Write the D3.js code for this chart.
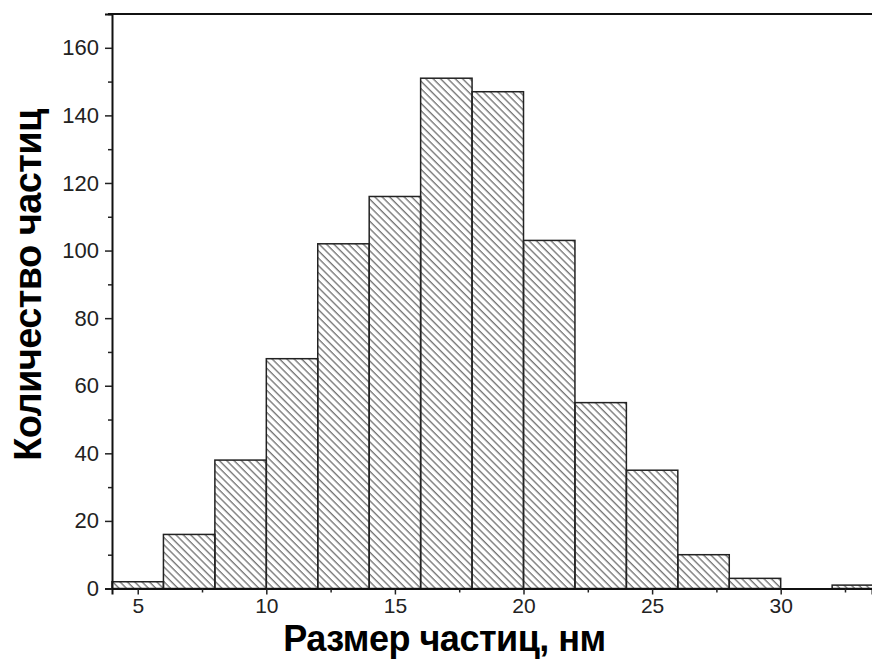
<!DOCTYPE html>
<html><head><meta charset="utf-8">
<script src="https://cdn.jsdelivr.net/npm/d3@7"></script>
<style>body{margin:0;background:#fff}svg{display:block}</style>
</head><body>
<script>
const binStarts = [4,6,8,10,12,14,16,18,20,22,24,26,28,30,32];
const binWidth = 2;
const counts = [2,16,38,68,102,116,151,147,103,55,35,10,3,0,1];
const xTicks = [5,10,15,20,25,30];
const yTicks = [0,20,40,60,80,100,120,140,160];
const xTitle = "Размер частиц, нм";
const yTitle = "Количество частиц";

const W = 872, H = 659;
const svg = d3.select("body").append("svg").attr("width", W).attr("height", H);
const x = d3.scaleLinear().domain([4, 33.55]).range([112, 872]);
const y = d3.scaleLinear().domain([0, 170]).range([588.5, 14]);

const defs = svg.append("defs");
defs.append("pattern").attr("id","hatch").attr("patternUnits","userSpaceOnUse")
  .attr("width",5.2).attr("height",10).attr("patternTransform","rotate(-45)")
  .append("line").attr("x1",1).attr("y1",0).attr("x2",1).attr("y2",10)
  .attr("stroke","#444").attr("stroke-width",1);

const data = binStarts.map((s,i)=>({s, v: counts[i]}));
svg.append("g").selectAll("rect").data(data.filter(d=>d.v>0)).join("rect")
  .attr("x", d=>x(d.s)).attr("width", d=>x(d.s+binWidth)-x(d.s))
  .attr("y", d=>y(d.v)).attr("height", d=>y(0)-y(d.v))
  .attr("fill","url(#hatch)").attr("stroke","#222").attr("stroke-width",1.5);

// axes
const xAxis = d3.axisBottom(x).tickValues(xTicks).tickSize(6).tickPadding(4).tickFormat(d3.format("d"));
const gx = svg.append("g").attr("transform",`translate(0,${y(0)})`).call(xAxis);
const xMinor = d3.axisBottom(x).tickValues(xTicks.map(t=>t+2.5)).tickSize(4).tickFormat("");
const gxm = svg.append("g").attr("transform",`translate(0,${y(0)})`).call(xMinor);
const yAxis = d3.axisLeft(y).tickValues(yTicks).tickSize(7).tickPadding(6).tickFormat(d3.format("d"));
const gy = svg.append("g").attr("transform",`translate(${x(4)},0)`).call(yAxis);
const yMinor = d3.axisLeft(y).tickValues(yTicks.map(t=>t+10)).tickSize(4).tickFormat("");
const gym = svg.append("g").attr("transform",`translate(${x(4)},0)`).call(yMinor);

[gx,gxm,gy,gym].forEach(g=>{
  g.selectAll(".domain").attr("stroke","#111").attr("stroke-width",2);
  g.selectAll(".tick line").attr("stroke","#222").attr("stroke-width",1.5);
  g.selectAll("text").attr("font-family","Liberation Sans, Arial, sans-serif")
   .attr("font-size",22).attr("fill","#222");
});
gx.selectAll("text").attr("font-size",21);
gxm.select(".domain").remove(); gym.select(".domain").remove();

// top border
svg.append("line").attr("x1",108).attr("x2",W).attr("y1",y(170)).attr("y2",y(170))
  .attr("stroke","#111").attr("stroke-width",2);

svg.append("text").attr("x",444.5).attr("y",651).attr("text-anchor","middle")
  .attr("font-family","Liberation Sans, Arial, sans-serif").attr("font-weight","bold")
  .attr("font-size",36).attr("letter-spacing",-0.5).attr("fill","#000").text(xTitle);
svg.append("text").attr("transform","translate(41,285) rotate(-90)").attr("text-anchor","middle")
  .attr("font-family","Liberation Sans, Arial, sans-serif").attr("font-weight","bold")
  .attr("font-size",38).attr("letter-spacing",-0.6).attr("fill","#000").text(yTitle);
</script>
</body></html>
